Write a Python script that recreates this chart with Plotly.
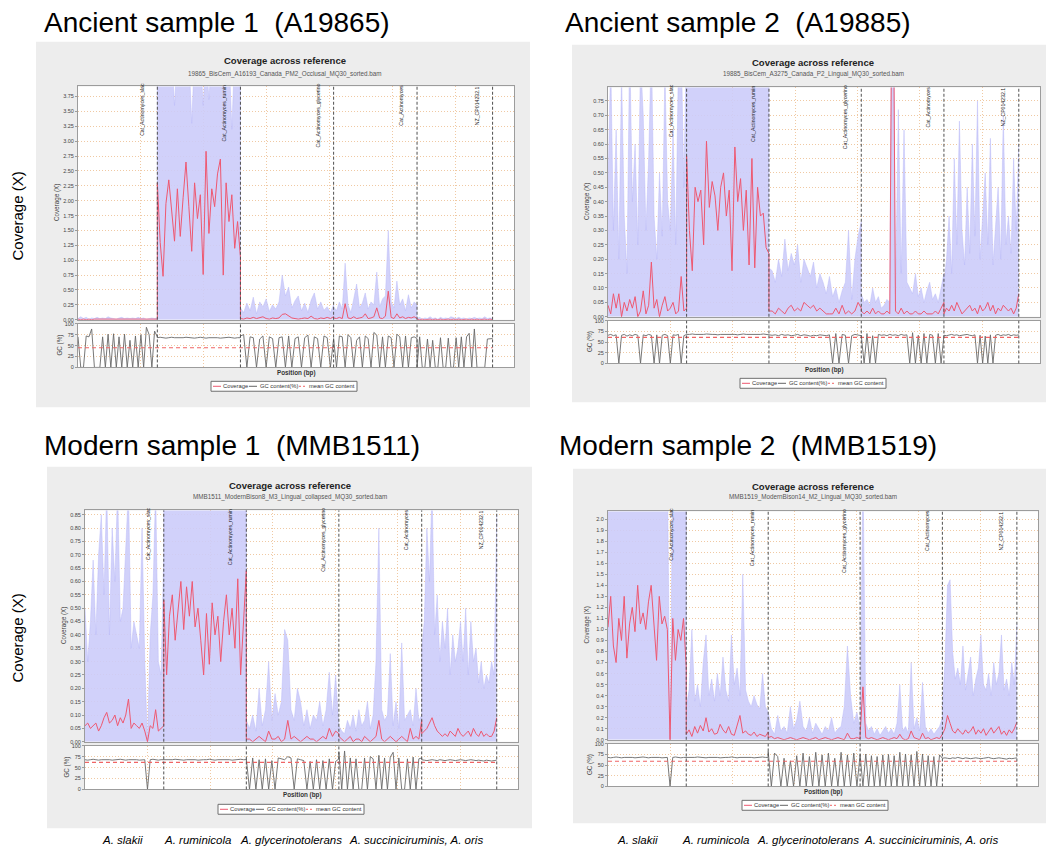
import plotly.graph_objects as go

W, H = 1046, 852

# ---------------- reference contigs ----------------
contig_len_bp = [2520000, 2640000, 2960000, 2650000, 2400000]
contig_tags = ["Cat_Actinomyces_slac", "Cat_Actinomyces_rumin", "Cat_Actinomyces_glycerino",
               "Cat_Actinomyces", "NZ_CP014232.1"]
axis_end_bp = 13850000
grid_step_bp = 2000000
bins_per_contig = 30

species_labels = ["A. slakii", "A. ruminicola", "A. glycerinotolerans", "A. succiniciruminis, A. oris"]

sample_titles = ["Ancient sample 1  (A19865)", "Ancient sample 2  (A19885)",
                 "Modern sample 1  (MMB1511)", "Modern sample 2  (MMB1519)"]
bam_names = ["19865_BisCem_A16193_Canada_PM2_Occlusal_MQ30_sorted.bam",
             "19885_BisCem_A3275_Canada_P2_Lingual_MQ30_sorted.bam",
             "MMB1511_ModernBison8_M3_Lingual_collapsed_MQ30_sorted.bam",
             "MMB1519_ModernBison14_M2_Lingual_MQ30_sorted.bam"]

# ---------------- per-bin values (30 bins per contig) ----------------
# Ancient sample 1
a1_cov = [0.01,0.00,0.01,0.00,0.01,0.00,0.01,0.01,0.00,0.01,0.00,0.01,0.00,0.01,0.00,0.01,0.01,0.00,0.01,0.00,0.01,0.00,0.01,0.00,0.01,0.00,0.01,0.01,0.00,0.01,
          2.30,1.30,0.73,1.95,2.35,1.80,1.32,2.20,1.40,2.05,2.65,1.90,1.15,2.30,1.70,2.10,0.76,2.83,1.45,2.20,1.90,2.45,2.70,0.75,2.30,1.65,2.10,1.20,1.65,1.05,
          0.02,0.01,0.03,0.02,0.04,0.02,0.03,0.05,0.02,0.01,0.03,0.02,0.03,0.09,0.10,0.07,0.03,0.02,0.01,0.02,0.03,0.02,0.06,0.02,0.01,0.03,0.02,0.04,0.02,0.05,
          0.03,0.02,0.04,0.02,0.27,0.03,0.02,0.05,0.02,0.03,0.04,0.10,0.02,0.03,0.05,0.20,0.03,0.02,0.06,0.48,0.04,0.02,0.10,0.03,0.05,0.02,0.04,0.03,0.05,0.02,
          0.01,0.00,0.01,0.00,0.01,0.01,0.00,0.01,0.00,0.01,0.00,0.01,0.01,0.00,0.01,0.00,0.01,0.00,0.01,0.01,0.00,0.01,0.00,0.01,0.00,0.01,0.01,0.00,0.01,0.00]
a1_hi = [0.02,0.05,0.02,0.04,0.01,0.03,0.02,0.04,0.02,0.03,0.02,0.05,0.03,0.02,0.01,0.03,0.04,0.02,0.03,0.02,0.03,0.02,0.04,0.02,0.03,0.01,0.02,0.03,0.02,0.03,
         4.50,4.50,4.50,4.50,4.50,4.50,3.60,4.50,4.50,4.50,4.50,4.50,3.30,4.50,4.50,4.50,3.60,4.50,3.70,4.50,4.50,4.50,4.50,4.50,4.50,4.50,3.20,4.50,4.50,4.50,
         0.20,0.12,0.28,0.15,0.38,0.10,0.30,0.22,0.35,0.14,0.25,0.18,0.30,0.75,0.40,0.55,0.20,0.32,0.40,0.15,0.28,0.12,0.33,0.45,0.18,0.30,0.16,0.22,0.12,0.25,
         0.22,0.15,0.30,0.18,0.95,0.25,0.12,0.35,0.60,0.20,0.28,0.45,0.18,0.30,0.25,0.80,0.22,0.35,0.40,1.50,0.30,0.20,0.65,0.25,0.35,0.15,0.42,0.20,0.30,0.25,
         0.02,0.04,0.01,0.03,0.02,0.05,0.02,0.03,0.01,0.04,0.02,0.03,0.02,0.05,0.03,0.02,0.04,0.02,0.03,0.01,0.03,0.02,0.04,0.02,0.03,0.02,0.05,0.02,0.03,0.02]
a1_gc = [70,0,0,72,70,88,0,0,0,70,0,76,0,77,0,70,0,76,0,62,0,72,0,75,0,92,75,0,83,70,
         68,69,68,67,68,69,68,68,67,68,69,68,68,67,68,69,68,67,68,68,69,68,67,68,68,69,68,67,68,68,
         72,75,0,70,68,0,65,72,0,70,66,0,68,70,0,72,0,66,70,0,68,74,0,70,66,0,72,68,0,66,
         66,0,72,70,0,75,68,0,62,70,0,72,66,0,80,74,0,70,0,72,68,0,76,70,0,72,0,68,70,66,
         0,70,0,0,65,0,62,0,0,68,0,0,67,0,0,68,0,70,0,70,78,0,88,0,0,0,0,65,65,66]

# Ancient sample 2
a2_cov = [0.04,0.01,0.08,0.03,0.08,0.00,0.05,0.02,0.06,0.03,0.07,0.00,0.02,0.09,0.01,0.04,0.19,0.03,0.06,0.00,0.04,0.07,0.02,0.03,0.05,0.01,0.02,0.14,0.02,0.03,
          0.56,0.30,0.16,0.45,0.40,0.44,0.25,0.61,0.38,0.47,0.42,0.30,0.45,0.50,0.35,0.44,0.16,0.59,0.40,0.48,0.30,0.44,0.18,0.55,0.17,0.45,0.35,0.36,0.24,0.22,
          0.02,0.02,0.01,0.03,0.02,0.01,0.03,0.04,0.02,0.03,0.02,0.05,0.04,0.03,0.04,0.02,0.03,0.02,0.01,0.01,0.01,0.03,0.01,0.04,0.01,0.02,0.01,0.02,0.05,0.03,
          0.02,0.01,0.02,0.01,0.03,0.01,0.02,0.01,0.01,0.02,0.01,1.60,0.02,0.01,0.03,0.01,0.02,0.01,0.01,0.02,0.01,0.01,0.02,0.01,0.01,0.01,0.02,0.01,0.03,0.05,
          0.01,0.03,0.02,0.04,0.02,0.05,0.03,0.01,0.02,0.03,0.04,0.02,0.03,0.01,0.04,0.02,0.03,0.05,0.02,0.04,0.01,0.03,0.02,0.04,0.03,0.02,0.03,0.01,0.03,0.08]
a2_hi = [0.45,0.90,0.30,0.65,0.20,0.85,0.35,0.15,0.95,0.40,0.60,0.25,0.90,0.70,0.30,0.55,0.95,0.35,0.20,0.50,0.28,0.85,0.40,0.30,0.65,0.25,0.90,0.95,0.45,0.80,
         1.00,1.00,1.00,1.00,1.00,1.00,1.00,1.00,1.00,1.00,1.00,1.00,1.00,1.00,1.00,1.00,1.00,1.00,1.00,1.00,1.00,1.00,1.00,1.00,1.00,1.00,1.00,1.00,1.00,1.00,
         0.17,0.16,0.12,0.20,0.14,0.27,0.16,0.22,0.18,0.25,0.12,0.20,0.17,0.14,0.19,0.10,0.15,0.12,0.08,0.14,0.07,0.10,0.05,0.09,0.12,0.30,0.06,0.20,0.28,0.33,
         0.08,0.05,0.06,0.04,0.10,0.05,0.07,0.03,0.04,0.06,0.05,1.60,0.08,0.72,0.15,0.65,0.12,0.10,0.08,0.15,0.07,0.10,0.05,0.09,0.12,0.06,0.08,0.05,0.10,0.15,
         0.12,0.20,0.35,0.15,0.55,0.25,0.68,0.30,0.18,0.45,0.22,0.60,0.28,0.75,0.20,0.35,0.50,0.25,0.62,0.18,0.30,0.45,0.20,0.70,0.25,0.35,0.22,0.55,0.30,0.60]
a2_gc = [66,68,65,67,0,66,68,64,67,65,68,66,0,67,65,68,66,0,67,0,66,68,65,0,67,66,68,0,65,68,
         68,68,69,68,68,67,68,69,68,68,68,67,68,68,69,68,68,68,67,68,69,68,68,68,67,68,68,69,68,68,
         68,66,67,65,68,66,67,65,66,68,65,67,66,64,66,65,67,66,65,67,0,70,0,68,66,0,65,68,66,65,
         66,0,70,0,65,0,68,66,67,65,68,66,67,65,68,66,67,0,72,0,66,0,70,0,68,66,0,70,0,66,
         66,65,67,68,66,67,65,66,67,68,66,65,67,0,66,0,64,0,67,0,66,68,65,67,66,68,65,67,66,67]

# Modern sample 1
m1_cov = [0.06,0.07,0.05,0.06,0.07,0.04,0.06,0.09,0.11,0.07,0.08,0.10,0.06,0.09,0.07,0.10,0.16,0.05,0.07,0.06,0.05,0.07,0.04,0.00,0.06,0.05,0.12,0.04,0.05,0.06,
          0.53,0.25,0.47,0.55,0.38,0.50,0.60,0.42,0.58,0.47,0.60,0.43,0.50,0.38,0.25,0.48,0.29,0.52,0.40,0.47,0.30,0.45,0.55,0.40,0.50,0.35,0.61,0.25,0.45,0.64,
          0.01,0.01,0.00,0.01,0.02,0.01,0.00,0.04,0.01,0.01,0.02,0.00,0.01,0.08,0.01,0.02,0.01,0.00,0.01,0.02,0.01,0.01,0.00,0.01,0.02,0.01,0.05,0.02,0.04,0.03,
          0.02,0.01,0.00,0.01,0.02,0.00,0.01,0.01,0.00,0.02,0.01,0.00,0.01,0.02,0.08,0.01,0.00,0.01,0.02,0.01,0.00,0.01,0.02,0.01,0.00,0.05,0.01,0.02,0.01,0.08,
          0.03,0.04,0.05,0.07,0.09,0.06,0.04,0.03,0.02,0.03,0.02,0.04,0.03,0.02,0.05,0.03,0.02,0.03,0.04,0.02,0.05,0.03,0.02,0.04,0.02,0.03,0.02,0.02,0.04,0.09]
m1_hi = [0.50,0.30,0.45,0.68,0.40,0.70,0.85,0.55,0.95,0.40,0.80,0.60,0.95,0.45,0.50,0.70,0.95,0.35,0.45,0.40,0.35,0.80,0.30,0.00,0.40,0.55,0.95,0.30,0.25,0.70,
         1.00,1.00,1.00,1.00,1.00,1.00,1.00,1.00,1.00,1.00,1.00,1.00,1.00,1.00,1.00,1.00,1.00,1.00,1.00,1.00,1.00,1.00,1.00,1.00,1.00,1.00,1.00,1.00,1.00,1.00,
         0.08,0.05,0.10,0.04,0.20,0.06,0.12,0.30,0.08,0.18,0.10,0.15,0.42,0.38,0.12,0.08,0.20,0.15,0.06,0.12,0.05,0.10,0.08,0.15,0.06,0.12,0.26,0.10,0.25,0.08,
         0.06,0.04,0.03,0.08,0.05,0.10,0.04,0.12,0.06,0.08,0.15,0.05,0.10,0.30,0.80,0.12,0.08,0.10,0.33,0.06,0.15,0.05,0.37,0.08,0.10,0.12,0.06,0.20,0.08,0.10,
         0.35,0.45,0.80,0.60,0.95,0.40,0.55,0.30,0.45,0.35,0.50,0.25,0.40,0.30,0.35,0.45,0.30,0.50,0.25,0.45,0.30,0.35,0.22,0.30,0.20,0.25,0.22,0.30,0.25,0.85]
m1_gc = [68,67,68,69,68,67,68,68,69,68,67,68,68,69,68,67,68,68,69,68,67,68,68,0,68,69,68,67,68,68,
         68,68,67,68,69,68,68,67,68,68,69,68,67,68,68,68,69,68,67,68,68,69,68,68,67,68,68,69,68,68,
         70,0,72,0,68,0,70,0,66,0,72,70,68,75,72,0,70,68,66,0,64,0,68,0,66,0,70,0,64,70,
         85,0,88,0,72,0,70,0,0,72,0,75,70,0,78,0,72,0,74,85,0,72,0,0,70,0,74,0,70,72,
         68,67,66,67,68,67,66,68,67,66,67,68,67,66,67,68,67,66,67,68,67,66,67,66,65,67,66,65,66,67]

# Modern sample 2
m2_cov = [1.02,1.30,0.85,0.70,1.10,0.90,1.30,0.74,1.05,1.20,0.98,1.40,1.05,1.15,1.00,1.25,1.40,1.10,0.72,1.30,1.05,1.12,1.00,0.00,1.10,0.72,1.00,0.90,1.10,0.66,
          0.05,0.09,0.03,0.12,0.06,0.13,0.08,0.20,0.07,0.10,0.05,0.06,0.14,0.09,0.06,0.12,0.05,0.04,0.14,0.22,0.06,0.08,0.05,0.04,0.07,0.03,0.05,0.04,0.03,0.07,
          0.02,0.03,0.01,0.02,0.01,0.00,0.01,0.02,0.01,0.00,0.01,0.02,0.01,0.00,0.01,0.02,0.00,0.01,0.02,0.01,0.00,0.01,0.02,0.01,0.00,0.06,0.01,0.01,0.02,0.01,
          0.05,0.48,0.02,0.01,0.02,0.01,0.00,0.01,0.02,0.01,0.00,0.01,0.02,0.01,0.05,0.01,0.00,0.01,0.08,0.02,0.01,0.00,0.06,0.01,0.02,0.00,0.01,0.02,0.01,0.05,
          0.05,0.10,0.22,0.15,0.08,0.06,0.10,0.07,0.05,0.09,0.06,0.08,0.12,0.05,0.09,0.06,0.10,0.04,0.08,0.11,0.06,0.09,0.12,0.05,0.08,0.04,0.09,0.06,0.10,0.16]
m2_hi = [2.50,2.50,2.50,2.50,2.50,2.50,2.50,2.50,2.50,2.50,2.50,2.50,2.50,2.50,2.50,2.50,2.50,2.50,2.50,2.50,2.50,2.50,2.50,0.00,2.50,2.50,2.50,2.50,2.50,2.50,
         0.30,0.45,1.00,0.35,0.50,0.30,0.70,0.95,0.40,0.55,0.35,0.60,0.40,0.75,0.45,0.35,0.95,0.50,0.65,0.40,1.50,0.45,0.35,0.30,0.40,0.32,0.28,0.60,0.30,0.25,
         0.25,0.10,0.05,0.22,0.08,0.12,0.06,0.30,0.10,0.18,0.35,0.12,0.08,0.20,0.06,0.15,0.10,0.05,0.12,0.08,0.20,0.06,0.10,0.12,0.30,0.85,0.40,0.15,0.25,0.10,
         0.10,2.50,0.15,0.08,0.12,0.05,0.10,0.04,0.08,0.12,0.06,0.10,0.05,0.15,0.50,0.08,0.12,0.06,0.70,0.10,0.20,0.08,0.52,0.12,0.06,0.10,0.05,0.08,0.12,0.20,
         0.30,0.70,1.40,1.45,0.80,0.55,0.65,0.50,0.85,0.45,0.60,0.75,0.40,0.55,0.65,0.95,0.50,0.45,0.60,0.40,0.70,0.50,0.60,0.95,0.45,0.55,0.40,0.70,0.50,1.05]
m2_gc = [68,67,68,69,68,67,68,68,69,68,67,68,68,69,68,67,68,68,69,68,67,68,68,0,68,69,68,67,68,68,
         68,68,67,68,69,68,68,67,68,68,69,68,67,68,68,68,69,68,67,68,68,69,68,68,67,68,68,69,68,68,
         82,0,78,70,0,66,0,60,0,72,0,78,0,70,0,80,0,74,0,78,0,66,0,80,0,74,0,78,0,70,
         75,0,76,0,72,0,70,0,74,0,75,0,72,0,80,0,76,0,74,0,82,0,76,0,72,0,70,0,74,66,
         66,67,66,65,67,66,68,66,65,67,66,65,66,67,66,65,66,67,68,66,65,66,67,66,65,64,66,65,66,67]

mean_gc = [45, 61, 62, 59]
cov_ymax = [3.92, 0.797, 0.866, 2.07]
cov_dtick = [0.25, 0.05, 0.05, 0.1]
cov_fmt = [".2f", ".2f", ".2f", ".1f"]

coverage = [a1_cov, a2_cov, m1_cov, m2_cov]
deviation_top = [a1_hi, a2_hi, m1_hi, m2_hi]
gc_content = [a1_gc, a2_gc, m1_gc, m2_gc]

# ---------------- page geometry (pixels) ----------------
geo = [
    dict(box=(36, 39, 530, 407), plot_x=(78, 514), cov_y=(84, 319), gc_y=(323, 367),
         head=(42, 20), title_y=58, file_y=71, mid_x=285, xlab_y=373, legend=(211, 381)),
    dict(box=(572, 42, 1046, 402), plot_x=(608, 1040), cov_y=(85, 316), gc_y=(320, 363),
         head=(563, 20), title_y=60, file_y=72, mid_x=813, xlab_y=370, legend=(740, 378)),
    dict(box=(47, 467, 532, 831), plot_x=(85, 518), cov_y=(511, 744), gc_y=(748, 792),
         head=(42, 446), title_y=486, file_y=497, mid_x=290, xlab_y=798, legend=(218, 807)),
    dict(box=(573, 469, 1046, 826), plot_x=(608, 1038), cov_y=(512, 742), gc_y=(746, 789),
         head=(557, 446), title_y=487, file_y=498, mid_x=813, xlab_y=795, legend=(742, 803)),
]
label_drop_px = [52, 57, 64, 42, 41]
species_x = [[100, 162, 238, 347], [615, 680, 755, 862]]
species_y = 843
side_label_y = [215, 640]


def px(x):
    return x / W


def py(y):
    return 1 - y / H


def axkey(letter, n):
    return f"{letter}axis" if n == 1 else f"{letter}axis{n}"


def axref(letter, n):
    return letter if n == 1 else f"{letter}{n}"


def note(x, y, text, size, color="#333", family=None, xanchor="center", angle=0, **kw):
    d = dict(x=px(x), y=py(y), xref="paper", yref="paper", text=text, showarrow=False,
             xanchor=xanchor, yanchor="middle", textangle=angle,
             font=dict(family=family or SANS, size=size, color=color))
    d.update(kw)
    return d


starts = [sum(contig_len_bp[:i]) for i in range(len(contig_len_bp))]
ends = [s + L for s, L in zip(starts, contig_len_bp)]
bin_x = [s + L * k / (bins_per_contig - 1)
         for s, L in zip(starts, contig_len_bp) for k in range(bins_per_contig)]

SANS = "Liberation Sans, Arial, sans-serif"
GRID = "rgba(236,188,140,0.8)"
EDGE = "#9c9c9c"
RED = "rgb(238,88,112)"

fig = go.Figure()
shapes, annotations, axes = [], [], {}

for p in range(4):
    g = geo[p]
    nc, ng = 2 * p + 1, 2 * p + 2
    xc, yc, xg, yg = axref("x", nc), axref("y", nc), axref("x", ng), axref("y", ng)
    x0, x1 = g["plot_x"]
    cy0, cy1 = g["cov_y"]
    gy0, gy1 = g["gc_y"]

    # panel background and white plotting areas
    b = g["box"]
    shapes.append(dict(type="rect", xref="paper", yref="paper", x0=px(b[0]), x1=px(b[2]),
                       y0=py(b[3]), y1=py(b[1]), fillcolor="#ededed", line=dict(width=0), layer="below"))
    for (t0, t1) in [(cy0, cy1), (gy0, gy1)]:
        shapes.append(dict(type="rect", xref="paper", yref="paper", x0=px(x0), x1=px(x1),
                           y0=py(t1), y1=py(t0), fillcolor="white", line=dict(width=0), layer="below"))

    # coverage +/- deviation band and coverage line
    fig.add_trace(go.Scatter(x=bin_x, y=deviation_top[p], xaxis=xc, yaxis=yc, mode="lines",
                             fill="tozeroy", fillcolor="rgba(204,204,250,0.9)",
                             line=dict(color="rgba(185,185,248,0.9)", width=0.5),
                             hoverinfo="skip", showlegend=False))
    fig.add_trace(go.Scatter(x=bin_x, y=coverage[p], xaxis=xc, yaxis=yc, mode="lines",
                             line=dict(color=RED, width=1), hoverinfo="skip", showlegend=False))
    # GC content and its mean
    fig.add_trace(go.Scatter(x=bin_x, y=gc_content[p], xaxis=xg, yaxis=yg, mode="lines",
                             line=dict(color="rgb(105,105,105)", width=0.9), hoverinfo="skip",
                             showlegend=False))
    fig.add_trace(go.Scatter(x=[0, ends[-1]], y=[mean_gc[p], mean_gc[p]], xaxis=xg, yaxis=yg,
                             mode="lines", line=dict(color="rgb(240,100,100)", width=1.2, dash="4px,3px"),
                             hoverinfo="skip", showlegend=False))

    common_x = dict(range=[0, axis_end_bp], showticklabels=False, ticks="", showgrid=True,
                    gridcolor=GRID, griddash="1px,2px", gridwidth=0.8, dtick=grid_step_bp, tick0=0,
                    showline=True, mirror=True, linecolor=EDGE, linewidth=1, zeroline=False)
    axes[axkey("x", nc)] = dict(common_x, domain=[px(x0), px(x1)], anchor=yc)
    axes[axkey("x", ng)] = dict(common_x, domain=[px(x0), px(x1)], anchor=yg, linewidth=1.3)
    common_y = dict(ticks="outside", ticklen=2, tickcolor=EDGE,
                    tickfont=dict(family=SANS, size=5.5, color="#444"),
                    showgrid=True, gridcolor=GRID, griddash="1px,2px", gridwidth=0.8, showline=True,
                    mirror=True, linecolor=EDGE, linewidth=1, zeroline=False, tick0=0)
    axes[axkey("y", nc)] = dict(common_y, domain=[py(cy1), py(cy0)], anchor=xc,
                                range=[0, cov_ymax[p]], dtick=cov_dtick[p], tickformat=cov_fmt[p])
    axes[axkey("y", ng)] = dict(common_y, domain=[py(gy1), py(gy0)], anchor=xg,
                                range=[0, 100], tickvals=[0, 25, 50, 75, 100])

    # contig boundaries and their names
    for k, e in enumerate(ends):
        for xx, yy in ((xc, yc), (xg, yg)):
            shapes.append(dict(type="line", xref=xx, yref=f"{yy} domain",
                               x0=e, x1=e, y0=0, y1=1, line=dict(color="#505050", width=1, dash="3px,2px")))
        annotations.append(dict(x=e, xref=xc, y=py(cy0 + label_drop_px[k]), yref="paper",
                                xshift=-16, text=contig_tags[k], textangle=-90, showarrow=False,
                                xanchor="center", yanchor="bottom",
                                font=dict(family=SANS, size=5.2, color="#1a1a1a")))

    # headings
    hx, hy = g["head"]
    annotations.append(note(hx, hy, sample_titles[p], 28, "black", xanchor="left"))
    annotations.append(note(g["mid_x"], g["title_y"], "<b>Coverage across reference</b>", 9.5, "#222"))
    annotations.append(note(g["mid_x"], g["file_y"], bam_names[p], 6.3, "#555"))
    annotations.append(note((x0 + x1) / 2, g["xlab_y"], "<b>Position (bp)</b>", 6.3, "#333"))
    annotations.append(note(x0 - 21, (cy0 + cy1) / 2, "Coverage (X)", 6.3, "#444", angle=-90))
    annotations.append(note(x0 - 18, (gy0 + gy1) / 2, "GC (%)", 6.3, "#444", angle=-90))

    # legend
    lx, ly = g["legend"]
    shapes.append(dict(type="rect", xref="paper", yref="paper", x0=px(lx), x1=px(lx + 146),
                       y0=py(ly + 10), y1=py(ly), fillcolor="white", line=dict(color="#6f6f6f", width=1)))
    for (a, c, d) in [(2, RED, "solid"), (38, "rgb(100,100,100)", "solid"), (88, "rgb(240,100,100)", "2px,2px")]:
        shapes.append(dict(type="line", xref="paper", yref="paper", x0=px(lx + a), x1=px(lx + a + 8),
                           y0=py(ly + 5), y1=py(ly + 5), line=dict(color=c, width=1, dash=d)))
    for (a, t) in [(10, "Coverage"), (47, "GC content(%)"), (96, "mean GC content")]:
        annotations.append(note(lx + a, ly + 5, t, 5.8, "#333", xanchor="left"))

# row labels and species names
for yv in side_label_y:
    annotations.append(note(17, yv, "Coverage (X)", 15, "black", angle=-90))
for row in species_x:
    for xv, name in zip(row, species_labels):
        annotations.append(note(xv, species_y, f"<i>{name}</i>", 11.5, "black", xanchor="left"))

fig.update_layout(width=W, height=H, margin=dict(l=0, r=0, t=0, b=0),
                  paper_bgcolor="white", plot_bgcolor="white", showlegend=False,
                  shapes=shapes, annotations=annotations, **axes)
fig.write_html("out.html")
